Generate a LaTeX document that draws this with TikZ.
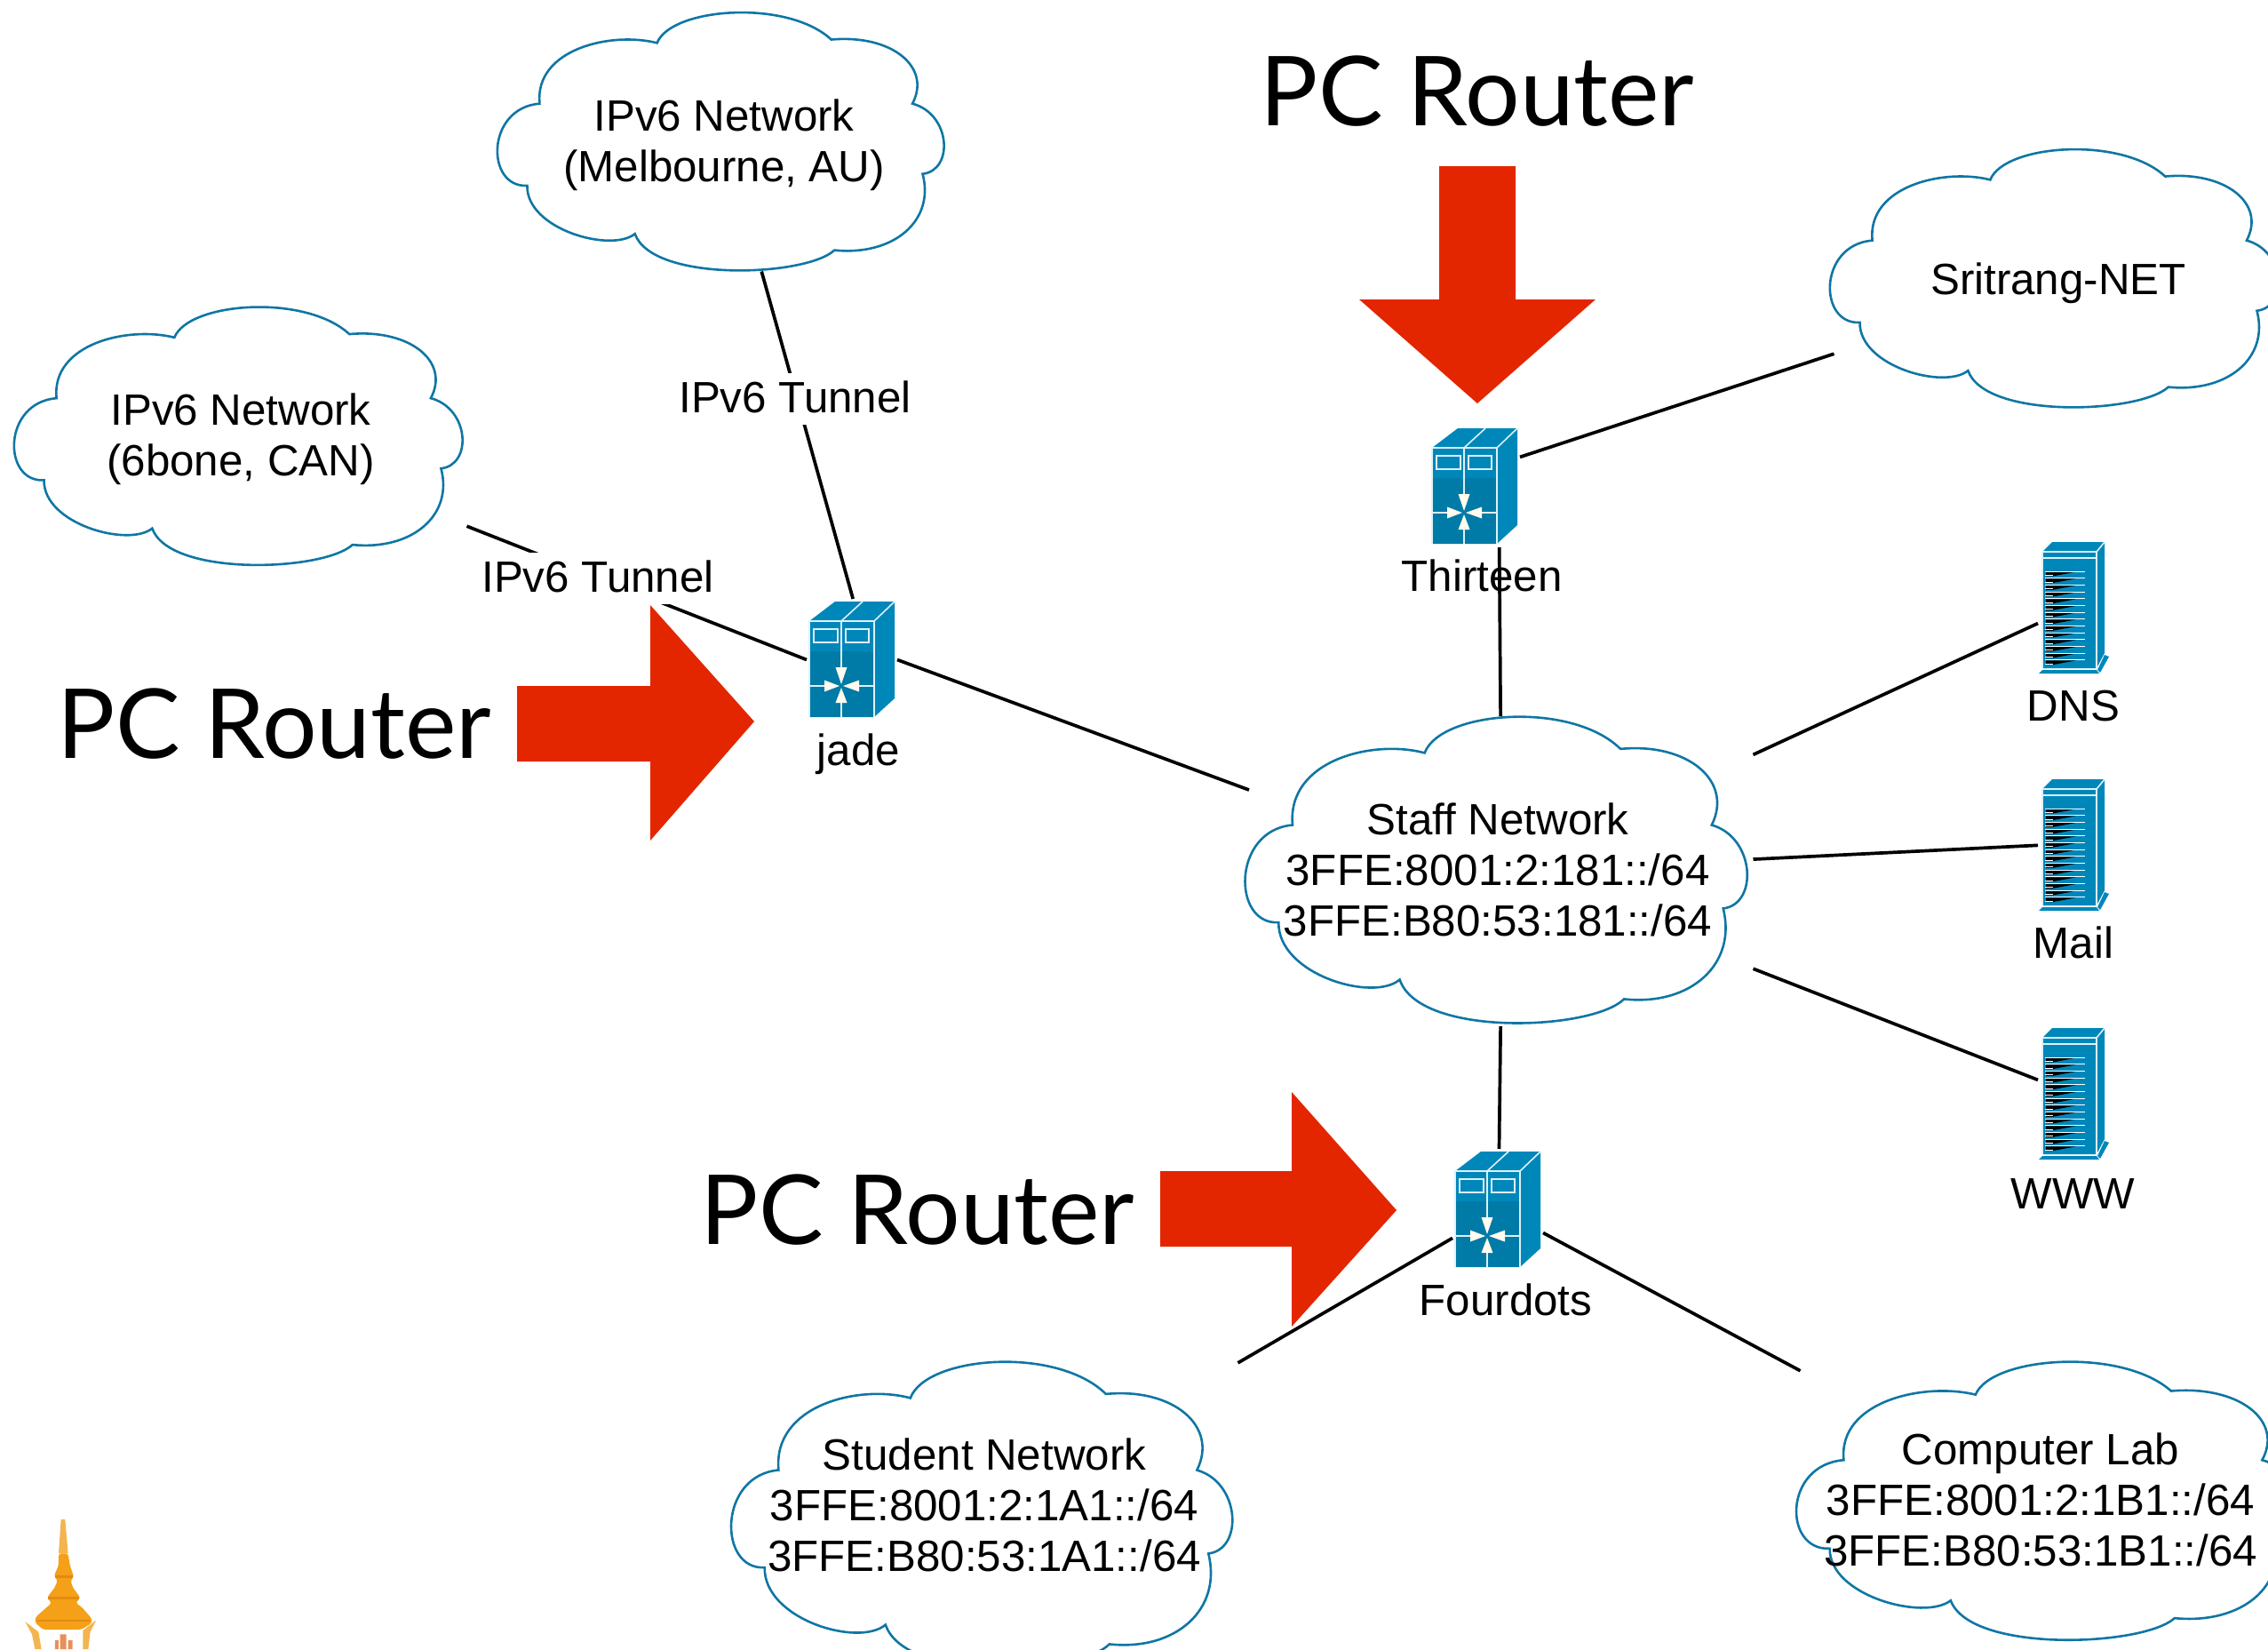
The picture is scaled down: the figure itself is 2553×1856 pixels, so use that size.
\documentclass[tikz,border=0pt]{standalone}
\usepackage{fontspec}
\setmainfont{Liberation Sans}
\newfontfamily\pcfont{Lato}
\definecolor{cloudblue}{HTML}{0F76A4}
\definecolor{iconmain}{HTML}{0087BA}
\definecolor{icondark}{HTML}{007AA6}
\definecolor{iconline}{HTML}{DDF1F8}
\definecolor{arrowcream}{HTML}{FFFBEE}
\definecolor{bigred}{HTML}{E42600}
\definecolor{gold}{HTML}{F4A018}
\definecolor{golddark}{HTML}{E58A10}
\definecolor{goldlight}{HTML}{F3B550}
\definecolor{figred}{HTML}{E8905A}
\tikzset{
  txt/.style={font=\fontsize{49.3pt}{57pt}\selectfont,inner sep=0pt,outer sep=0pt,align=center},
  cloudbox/.style={txt,rectangle,outer sep=2pt},
  cloudline/.style={draw=cloudblue,line width=2.6pt,line join=miter},
  routerbox/.style={rectangle,inner sep=0pt,outer sep=3pt,minimum width=96pt,minimum height=131pt},
  serverbox/.style={rectangle,inner sep=0pt,outer sep=0pt,minimum width=76pt,minimum height=147pt},
  linkline/.style={draw=black,line width=3.7pt},
  bigarrow/.style={fill=bigred,draw=none},
  pclabel/.style={font=\pcfont\fontsize{108.7pt}{108pt}\selectfont,inner sep=0pt,anchor=base},
  iconlabel/.style={txt,anchor=base},
  tunnellabel/.style={txt,anchor=base,fill=white,text height=40pt,text depth=10pt,inner sep=4pt},
  iconedge/.style={draw=iconline,line width=1.6pt},
}
\newcommand{\cloudshape}[4]{%
  \begin{scope}[shift={(#1-#3/2,#2-#4/2)},x=#3pt,y=-#4pt]
    \draw[cloudline] (.09,.352)
      .. controls (.078,.142) and (.252,.074) .. (.355,.119)
      .. controls (.386,-.017) and (.649,-.051) .. (.748,.106)
      .. controls (.883,.085) and (.975,.21) .. (.931,.352)
      .. controls (1.018,.392) and (1.025,.608) .. (.954,.622)
      .. controls (.982,.8) and (.89,.938) .. (.755,.915)
      .. controls (.691,1.017) and (.344,1.04) .. (.305,.852)
      .. controls (.252,.926) and (.06,.835) .. (.062,.667)
      .. controls (-.032,.676) and (-.032,.369) .. (.09,.352) -- cycle;
  \end{scope}}
\newcommand{\routerart}[2]{%
  \begin{scope}[shift={(#1,#2)}]
    \fill[iconmain] (0,0) -- (29,-22) -- (96,-22) -- (96,87) -- (73,108) -- (0,108) -- cycle;
    \fill[icondark] (0,34) rectangle (73,108);
    \draw[iconedge] (0,108) -- (0,0) -- (73,0) -- (96,-22);
    \draw[iconedge] (73,0) -- (73,108);
    \draw[iconedge] (36,0) -- (60,-22);
    \draw[iconedge] (36,0) -- (36,52) (36,92) -- (36,108) (0,73) -- (17,73) (56,73) -- (73,73);
    \draw[iconedge] (5,9) rectangle (32,24) (41,9) rectangle (67,24);
    \fill[arrowcream] (36,71) -- (29.5,52) -- (42.5,52) -- cycle
      (36,75) -- (29.5,92) -- (42.5,92) -- cycle
      (34,73) -- (17,66.5) -- (17,79.5) -- cycle
      (38,73) -- (56,66.5) -- (56,79.5) -- cycle;
  \end{scope}}
\newcommand{\serverart}[2]{%
  \begin{scope}[shift={(#1,#2)}]
    \fill[iconmain] (0,0) -- (11,-11) -- (70,-11) -- (70,114) -- (61,131) -- (0,131) -- cycle;
    \fill[iconmain] (-4,137) -- (0,133) -- (61,133) -- (64,137) -- cycle;
    \fill[iconmain] (62,133) -- (70,116) -- (75,118) -- (65,136) -- cycle;
    \draw[iconedge] (0,0) -- (61,0) -- (70,-11) (61,0) -- (61,132) (0,7) -- (61,7);
    \draw[iconedge] (0,0) -- (0,131);
    \foreach \k in {0,...,13}{
      \pgfmathsetmacro{\yy}{22+7.67*\k}
      \fill[black] (4,\yy+.6) -- (38,\yy+.6) -- (12,\yy+5.4) -- (4,\yy+5.4) -- cycle;
      \draw[white,line width=1pt] (3,\yy) -- (48,\yy);
      \draw[white,line width=1pt] (3,\yy+4.4) -- (12,\yy+4.4);
    }
  \end{scope}}
\begin{document}
\begin{tikzpicture}[x=1pt,y=-1pt]
\useasboundingbox (0,0) rectangle (2553,1856);
\clip (0,0) rectangle (2553,1856);
% clouds
\cloudshape{269}{491.5}{501}{293}
\cloudshape{812}{160}{499}{293}
\cloudshape{2313}{314}{501}{293}
\cloudshape{1685}{980}{561}{348}
\cloudshape{1106}{1706}{560}{348}
\cloudshape{2305}{1690}{560}{316}
\node[cloudbox,minimum width=505pt,minimum height=293pt] (six) at (271,494.5) {IPv6 Network\\(6bone, CAN)};
\node[cloudbox,minimum width=503pt,minimum height=293pt] (melb) at (815,163) {IPv6 Network\\(Melbourne, AU)};
\node[cloudbox,minimum width=505pt,minimum height=293pt] (sri) at (2317,318.5) {Sritrang-NET};
\node[cloudbox,minimum width=565pt,minimum height=348pt] (staff) at (1686,979) {Staff Network\\3FFE:8001:2:181::/64\\3FFE:B80:53:181::/64};
\node[cloudbox,minimum width=563pt,minimum height=326pt] (student) at (1108,1694) {Student Network\\3FFE:8001:2:1A1::/64\\3FFE:B80:53:1A1::/64};
\node[cloudbox,minimum width=565pt,minimum height=316pt] (lab) at (2297,1688) {Computer Lab\\3FFE:8001:2:1B1::/64\\3FFE:B80:53:1B1::/64};
% icons
\routerart{911}{699}
\routerart{1612}{504}
\routerart{1638}{1318}
\serverart{2299}{621}
\serverart{2299}{888}
\serverart{2299}{1168}
\node[routerbox] (jade) at (959,742.5) {};
\node[routerbox] (thirteen) at (1660,547.5) {};
\node[routerbox] (fourdots) at (1686,1361.5) {};
\node[serverbox] (dns) at (2332,683) {};
\node[serverbox] (mail) at (2332,950) {};
\node[serverbox] (www) at (2332,1230) {};
% red arrows
\fill[bigarrow] (1620,187) -- (1706,187) -- (1706,337) -- (1796,337) -- (1663,454) -- (1530,337) -- (1620,337) -- cycle;
\fill[bigarrow] (582,772) -- (732,772) -- (732,681) -- (849,812) -- (732,946) -- (732,857) -- (582,857) -- cycle;
\fill[bigarrow] (1306,1318) -- (1454,1318) -- (1454,1229) -- (1572,1362) -- (1454,1493) -- (1454,1403) -- (1306,1403) -- cycle;
% connectors
\draw[linkline] (six.-21.4) -- (jade.180);
\draw[linkline] ([shift={(-6,-6)}]melb.-72.4) -- (jade.89);
\draw[linkline] (jade.0) -- ([shift={(4.5,8)}]staff.161.9);
\draw[linkline] (thirteen.33) -- ([shift={(2,-3)}]sri.198.8);
\draw[linkline] (thirteen.-68.8) -- ([shift={(-3,3)}]staff.88.6);
\draw[linkline] ([shift={(3,-3)}]staff.24.3) -- (dns.206.6);
\draw[linkline] ([shift={(3,-2)}]staff.2.3) -- (mail.182);
\draw[linkline] ([shift={(3,2)}]staff.-21.2) -- (www.159.4);
\draw[linkline] ([shift={(-3,0)}]staff.-88.7) -- ([shift={(1.5,0)}]fourdots.90);
\draw[linkline] (fourdots.212.2) -- ([shift={(2,-3)}]student.29.2);
\draw[linkline] (fourdots.-27.4) -- ([shift={(14,6)}]lab.152.3);
% labels
\node[tunnellabel] (tun1) at (895,464) {IPv6 Tunnel};
\node[tunnellabel] (tun2) at (673,666) {IPv6 Tunnel};
\node[iconlabel] (jadelab) at (966.5,861) {jade};
\node[iconlabel] (thirteenlab) at (1668,665) {Thirteen};
\node[iconlabel] (fourdotslab) at (1695,1480) {Fourdots};
\node[iconlabel] (dnslab) at (2334,811) {DNS};
\node[iconlabel] (maillab) at (2334,1078) {Mail};
\node[iconlabel] (wwwlab) at (2333.5,1360) {WWW};
\node[pclabel] (pc1) at (1663,141) {PC Router};
\node[pclabel] (pc2) at (309,853) {PC Router};
\node[pclabel] (pc3) at (1033,1400) {PC Router};
% logo
\begin{scope}[shift={(0,1680)},x=.3333pt,y=-.3333pt]
  \fill[goldlight] (206,90) -- (220,90) -- (230,205) -- (198,205) -- cycle;
  \fill[gold,rounded corners=3pt] (198,205) -- (230,205) -- (236,245) -- (250,285) -- (238,295) -- (246,320) -- (272,355) -- (255,372) -- (275,385) -- (310,425) -- (310,440) -- (275,462) -- (145,462) -- (118,438) -- (120,420) -- (160,385) -- (175,372) -- (158,355) -- (185,320) -- (195,295) -- (182,282) -- (198,245) -- cycle;
  \draw[golddark,line width=2.5pt] (187,283) -- (247,283) (162,355) -- (268,355) (125,432) -- (303,432);
  \fill[goldlight] (85,435) -- (130,470) -- (140,528) -- (118,528) -- (108,478) -- cycle;
  \fill[goldlight] (325,430) -- (305,470) -- (298,528) -- (280,528) -- (280,465) -- cycle;
  \fill[figred] (203,478) rectangle (224,528) (186,498) rectangle (198,528) (230,498) rectangle (245,528);
\end{scope}
\end{tikzpicture}
\end{document}
